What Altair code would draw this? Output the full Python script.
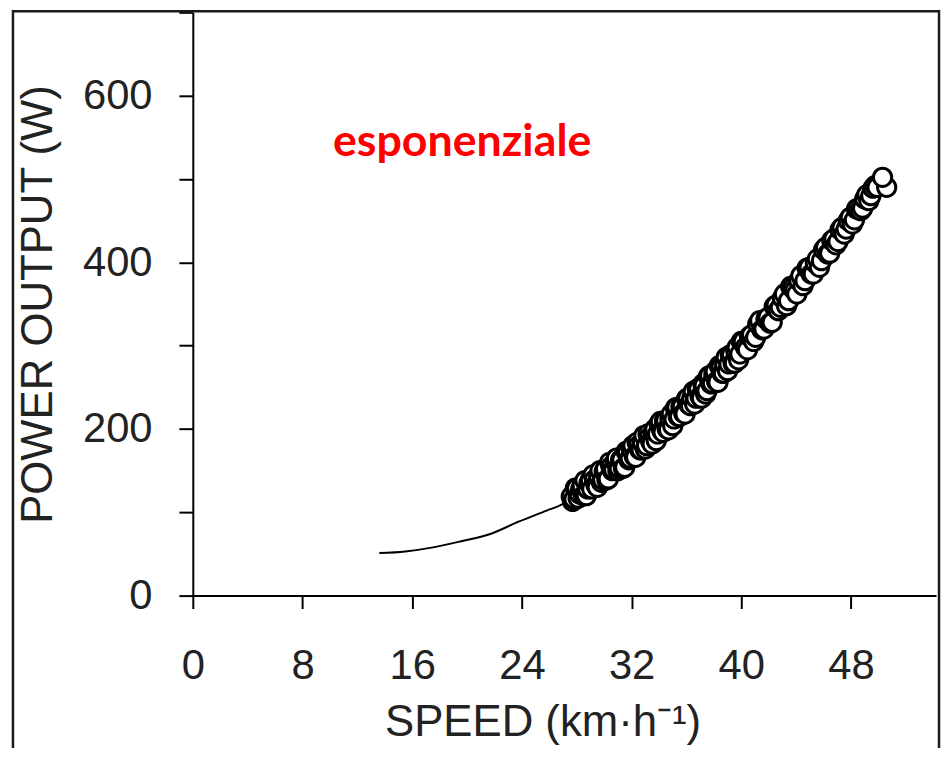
import altair as alt
import pandas as pd

# ---- data ----
line_speed = [13.6, 15.5, 17.2, 19.5, 21.7, 23.8, 25.8, 27.0, 28, 30, 32, 34, 36, 38, 40, 42, 44, 46, 48, 50, 50.4]
line_power = [51, 53, 57, 65, 74, 89, 102, 110, 122, 145, 170, 198, 228, 261, 296, 333, 370, 408, 450, 495, 503]

pt_speed_a = [27.6, 27.8, 28.0, 28.1, 28.3, 28.5, 28.6, 28.8, 29.0, 29.1,
              29.3, 29.5, 29.7, 29.9, 30.0, 30.2, 30.4, 30.6, 30.8, 31.0,
              31.2, 31.4, 31.6, 31.8, 32.0, 32.2, 32.4, 32.6, 32.8, 33.0,
              33.2, 33.4, 33.6, 33.8, 34.0, 34.2, 34.4, 34.6, 34.8, 35.0,
              35.2, 35.4, 35.6, 35.8, 36.0, 36.2, 36.4, 36.6, 36.8, 37.0,
              37.2, 37.4, 37.6, 37.8, 38.0, 38.2, 38.4, 38.6, 38.8, 39.0,
              39.2, 39.4, 39.6, 39.8, 40.0, 40.3, 40.6, 40.9, 41.2, 41.5,
              41.8, 42.1, 42.4, 42.7, 43.0, 43.3, 43.6, 43.9, 44.2, 44.5,
              44.8, 45.1, 45.4, 45.7, 46.0, 46.3, 46.6, 46.9, 47.2, 47.5,
              47.8, 48.1, 48.4, 48.7, 49.0, 49.3, 49.6, 49.9, 50.6, 50.3]
pt_power_a = [119, 116, 129, 117, 128, 120, 138, 128, 139, 128,
              139, 130, 150, 139, 149, 139, 160, 150, 161, 150,
              163, 153, 173, 163, 175, 167, 184, 175, 183, 176,
              194, 185, 196, 186, 206, 198, 210, 200, 212, 204,
              225, 215, 227, 219, 236, 229, 237, 230, 248, 239,
              254, 242, 263, 254, 265, 257, 276, 267, 277, 270,
              289, 279, 294, 283, 305, 298, 311, 305, 326, 319,
              332, 327, 347, 342, 357, 348, 371, 366, 378, 372,
              393, 386, 399, 394, 415, 410, 426, 421, 439, 434,
              450, 446, 464, 462, 476, 474, 489, 490, 490, 502]

pt_speed_b = [27.7, 27.9, 28.2, 28.4, 28.7, 28.9, 29.2, 29.4, 29.6, 29.8,
              30.1, 30.3, 30.5, 30.7, 30.9, 31.1, 31.3, 31.5, 31.7, 31.9,
              32.1, 32.3, 32.5, 32.7, 32.9, 33.1, 33.3, 33.5, 33.7, 33.9,
              34.1, 34.3, 34.5, 34.7, 34.9, 35.1, 35.3, 35.5, 35.7, 35.9,
              36.1, 36.3, 36.5, 36.7, 36.9, 37.1, 37.3, 37.5, 37.7, 37.9,
              38.1, 38.3, 38.5, 38.7, 38.9, 39.1, 39.3, 39.5, 39.7, 39.9,
              40.15, 40.45, 40.75, 41.05, 41.35, 41.65, 41.95, 42.25, 42.55, 42.85,
              43.15, 43.45, 43.75, 44.05, 44.35, 44.65, 44.95, 45.25, 45.55, 45.85,
              46.15, 46.45, 46.75, 47.05, 47.35, 47.65, 47.95, 48.25, 48.55, 48.85,
              49.15, 49.45, 49.75]
pt_power_b = [113, 129, 122, 132, 120, 135, 145, 133, 142, 136,
              152, 140, 155, 151, 165, 153, 163, 154, 171, 165,
              180, 166, 180, 175, 192, 180, 190, 182, 200, 194,
              209, 196, 210, 199, 218, 212, 226, 215, 227, 218,
              237, 228, 245, 237, 248, 237, 252, 246, 264, 255,
              269, 256, 273, 267, 286, 278, 289, 279, 298, 290,
              305, 295, 313, 310, 330, 320, 334, 328, 349, 346,
              362, 354, 369, 362, 384, 378, 394, 386, 404, 402,
              418, 411, 428, 425, 442, 440, 454, 451, 465, 465,
              481, 480, 492]

x_ticks = [0, 8, 16, 24, 32, 40, 48]
y_ticks = [0, 100, 200, 300, 400, 500, 600, 700]

line_df = pd.DataFrame({"speed": line_speed, "power": line_power})
pts_df = pd.DataFrame({"speed": pt_speed_a + pt_speed_b, "power": pt_power_a + pt_power_b})
# draw in order of speed, the highest point last (on top)
pts_df["order"] = pts_df["speed"].rank(method="first")
pts_df.loc[pts_df["power"].idxmax(), "order"] = len(pts_df) + 1
one_df = pd.DataFrame({"a": [0]})

FONT = "Liberation Sans"

x_enc = alt.X("speed:Q",
              scale=alt.Scale(domain=[0, 54.2], nice=False, zero=False),
              axis=alt.Axis(values=x_ticks, title="SPEED (km·h⁻¹)",
                            tickSize=13, labelPadding=70, labelBaseline="alphabetic",
                            titleX=352, titleY=141, titleBaseline="alphabetic",
                            titleAlign="center", titleAnchor="start"))
y_enc = alt.Y("power:Q",
              scale=alt.Scale(domain=[0, 700], nice=False),
              axis=alt.Axis(values=y_ticks, title="POWER OUTPUT (W)",
                            labelExpr="datum.value % 200 == 0 ? datum.label : ''",
                            tickSize=14, labelPadding=27, labelBaseline="middle",
                            titleAngle=270, titleX=-142, titleY=293.5,
                            titleBaseline="alphabetic", titleAlign="center",
                            titleAnchor="start"))

curve = alt.Chart(line_df).mark_line(color="black", strokeWidth=2, interpolate="monotone").encode(
    x=x_enc, y=y_enc)

points = alt.Chart(pts_df).mark_point(shape="circle", filled=True, fill="white", stroke="black",
                                      strokeWidth=3, size=340, opacity=1).encode(
    x="speed:Q", y="power:Q", order="order:Q")

label = alt.Chart(one_df).mark_text(text="esponenziale", color="#ff0000", font="Lato",
                                    fontWeight="bold", fontSize=45, align="left",
                                    baseline="alphabetic").encode(
    x=alt.value(141), y=alt.value(145))

frame = alt.Chart(one_df).mark_rect(fill="transparent", stroke="#1a1a1a", strokeWidth=2.5).encode(
    x=alt.value(-181), x2=alt.value(751), y=alt.value(-1), y2=alt.value(900))

chart = alt.layer(frame, curve, points, label).properties(
    width=748, height=587,
    autosize=alt.AutoSizeParams(type="none"),
    padding={"left": 186, "top": 2, "right": 5, "bottom": 151},
).configure_view(stroke=None).configure_axis(
    grid=False, domainColor="black", domainWidth=2, tickColor="black", tickWidth=2,
    labelFont=FONT, labelFontSize=42, labelColor="#222222",
    titleFont=FONT, titleFontSize=44, titleColor="#222222", titleFontWeight="normal",
    labelFlush=False, labelOverlap=False
)

chart.save("out.html", embed_options={"renderer": "svg", "actions": False})
